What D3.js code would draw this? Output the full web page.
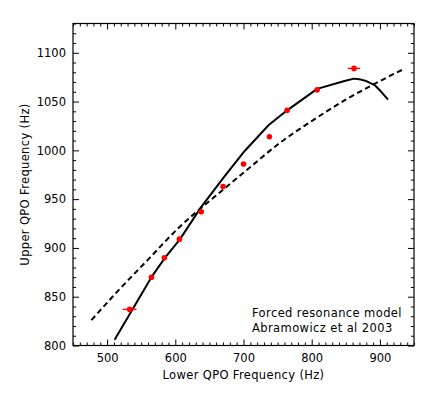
<!DOCTYPE html>
<html>
<head>
<meta charset="utf-8">
<script src="https://cdn.jsdelivr.net/npm/d3@7"></script>
<style>
  html, body { margin: 0; padding: 0; background: #fff; }
  svg { display: block; }
  text { font-family: "DejaVu Sans", sans-serif; fill: #000; }
</style>
</head>
<body>
<div id="chart"></div>
<script>
// Observed QPO pairs (Hz)
const lowerQPO = [533, 565, 584, 606, 638, 670, 700, 738, 764, 808, 862];
const upperQPO = [837, 870, 890, 909, 937, 963, 986, 1014, 1041, 1062, 1084];
const lowerErr = [10, 0, 0, 0, 0, 0, 0, 0, 0, 0, 9];

// Forced resonance model curve (solid)
const modelLower = [511, 565, 585, 607, 637, 673, 700, 737, 764, 808, 848, 862, 872, 880, 893, 902, 912];
const modelUpper = [806, 870, 890, 909, 941, 974, 998, 1026, 1041, 1063, 1071, 1073.5, 1072.5, 1071, 1066.5, 1060, 1052];

// Comparison curve (dashed)
const dashLower = [477, 520, 560, 607, 650, 700, 754, 800, 850, 900, 937];
const dashUpper = [826, 859, 888, 922, 948, 977, 1008, 1030, 1052, 1071, 1084];

const xTicks = [500, 600, 700, 800, 900];
const yTicks = [800, 850, 900, 950, 1000, 1050, 1100];
const legendLines = ["Forced resonance model", "Abramowicz et al 2003"];

const W = 436, H = 393;
const M = { top: 23.5, right: 22, bottom: 47.5, left: 73 };
const iW = W - M.left - M.right;
const iH = H - M.top - M.bottom;

const svg = d3.select("#chart").append("svg")
  .attr("width", W).attr("height", H);

const g = svg.append("g").attr("transform", `translate(${M.left},${M.top})`);

const x = d3.scaleLinear().domain([450, 950]).range([0, iW]);
const y = d3.scaleLinear().domain([800, 1130]).range([iH, 0]);

const minorX = d3.range(450, 951, 10).filter(v => v % 100 !== 0);
const minorY = d3.range(800, 1131, 10).filter(v => v % 50 !== 0);

function styleAxis(ax, labels) {
  ax.select(".domain").remove();
  ax.selectAll(".tick line").attr("stroke", "#000").attr("stroke-width", 1);
  if (labels) ax.selectAll("text").style("font-size", "11.5px").style("fill", "#000");
  else ax.selectAll("text").remove();
}

// bottom
g.append("g").attr("transform", `translate(0,${iH})`)
  .call(d3.axisBottom(x).tickValues(xTicks).tickSize(-6).tickPadding(8).tickFormat(d3.format("d")))
  .call(ax => styleAxis(ax, true));
g.append("g").attr("transform", `translate(0,${iH})`)
  .call(d3.axisBottom(x).tickValues(minorX).tickSize(-3))
  .call(ax => styleAxis(ax, false));
// top
g.append("g")
  .call(d3.axisTop(x).tickValues(xTicks).tickSize(-6))
  .call(ax => styleAxis(ax, false));
g.append("g")
  .call(d3.axisTop(x).tickValues(minorX).tickSize(-3))
  .call(ax => styleAxis(ax, false));
// left
g.append("g")
  .call(d3.axisLeft(y).tickValues(yTicks).tickSize(-6).tickPadding(7).tickFormat(d3.format("d")))
  .call(ax => styleAxis(ax, true));
g.append("g")
  .call(d3.axisLeft(y).tickValues(minorY).tickSize(-3))
  .call(ax => styleAxis(ax, false));
// right
g.append("g").attr("transform", `translate(${iW},0)`)
  .call(d3.axisRight(y).tickValues(yTicks).tickSize(-6))
  .call(ax => styleAxis(ax, false));
g.append("g").attr("transform", `translate(${iW},0)`)
  .call(d3.axisRight(y).tickValues(minorY).tickSize(-3))
  .call(ax => styleAxis(ax, false));

// frame
g.append("rect")
  .attr("width", iW).attr("height", iH)
  .attr("fill", "none").attr("stroke", "#000").attr("stroke-width", 1.2);

// dashed curve
const dashLine = d3.line()
  .x(d => x(d[0])).y(d => y(d[1]))
  .curve(d3.curveMonotoneX);
g.append("path")
  .datum(dashLower.map((v, i) => [v, dashUpper[i]]))
  .attr("fill", "none").attr("stroke", "#000")
  .attr("stroke-width", 2).attr("stroke-dasharray", "5.5,3.5")
  .attr("d", dashLine);

// solid model curve
const solidLine = d3.line()
  .x(d => x(d[0])).y(d => y(d[1]));
g.append("path")
  .datum(modelLower.map((v, i) => [v, modelUpper[i]]))
  .attr("fill", "none").attr("stroke", "#000")
  .attr("stroke-width", 2)
  .attr("stroke-linejoin", "round")
  .attr("d", solidLine);

// data points
const pts = lowerQPO.map((v, i) => ({ x: v, y: upperQPO[i], e: lowerErr[i] }));
g.append("g").selectAll("line")
  .data(pts.filter(d => d.e > 0)).enter().append("line")
  .attr("x1", d => x(d.x - d.e)).attr("x2", d => x(d.x + d.e))
  .attr("y1", d => y(d.y)).attr("y2", d => y(d.y))
  .attr("stroke", "#ff0000").attr("stroke-width", 1.3);
g.append("g").selectAll("circle")
  .data(pts).enter().append("circle")
  .attr("cx", d => x(d.x)).attr("cy", d => y(d.y))
  .attr("r", 2.8).attr("fill", "#ff0000");

// legend text
g.append("g").selectAll("text")
  .data(legendLines).enter().append("text")
  .attr("x", 179).attr("y", (d, i) => 293.5 + i * 15)
  .style("font-size", "11.5px")
  .style("letter-spacing", "0.4px")
  .text(d => d);

// axis titles
svg.append("text")
  .attr("x", M.left + iW / 2).attr("y", 379)
  .attr("text-anchor", "middle")
  .style("font-size", "11.5px")
  .style("letter-spacing", "0.35px")
  .text("Lower QPO Frequency (Hz)");
svg.append("text")
  .attr("transform", `translate(28.5,${M.top + iH / 2}) rotate(-90)`)
  .attr("text-anchor", "middle")
  .style("font-size", "11.5px")
  .style("letter-spacing", "0.35px")
  .text("Upper QPO Frequency (Hz)");
</script>
</body>
</html>
